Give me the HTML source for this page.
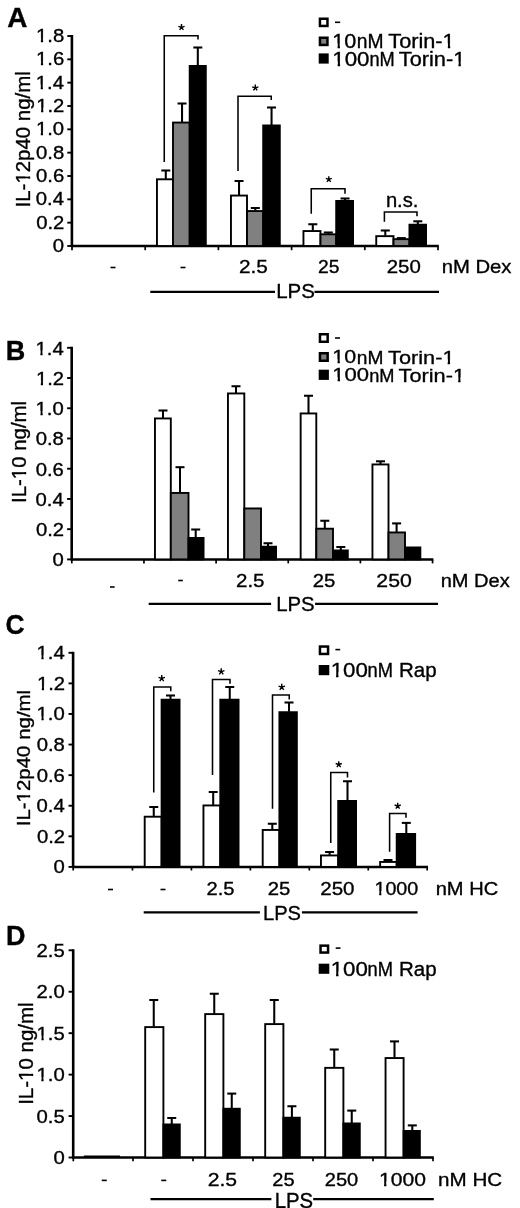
<!DOCTYPE html>
<html><head><meta charset="utf-8"><title>Figure</title>
<style>
html,body{margin:0;padding:0;background:#fff;}
svg{display:block;will-change:transform;filter:grayscale(1) blur(0.4px);}
text{font-family:"Liberation Sans",sans-serif;stroke:#000;stroke-width:0.35px;vector-effect:non-scaling-stroke;}
</style></head><body>
<svg width="520" height="1208" viewBox="0 0 520 1208">
<rect x="0" y="0" width="520" height="1208" fill="#fff"/>
<text transform="matrix(0.13955 0 0 0.13841 7.202 26.700)" font-size="200" font-weight="bold" fill="#000">A</text>
<line x1="71.9" y1="35.0" x2="71.9" y2="247.0" stroke="#000" stroke-width="2.6" stroke-linecap="butt"/>
<line x1="67.3" y1="36.0" x2="72.0" y2="36.0" stroke="#000" stroke-width="1.9" stroke-linecap="butt"/>
<g transform="matrix(0.10154 0 0 0.09085 35.985 41.900)"><text font-size="200" fill="#000">1.8</text><rect x="3.23" y="-44.94" width="44.86" height="70.94" fill="#fff"/><rect x="70.17" y="-44.94" width="43.30" height="70.94" fill="#fff"/></g>
<line x1="67.3" y1="59.33333333333333" x2="72.0" y2="59.33333333333333" stroke="#000" stroke-width="1.9" stroke-linecap="butt"/>
<g transform="matrix(0.10154 0 0 0.09085 35.985 65.233)"><text font-size="200" fill="#000">1.6</text><rect x="3.23" y="-44.94" width="44.86" height="70.94" fill="#fff"/><rect x="70.17" y="-44.94" width="43.30" height="70.94" fill="#fff"/></g>
<line x1="67.3" y1="82.66666666666666" x2="72.0" y2="82.66666666666666" stroke="#000" stroke-width="1.9" stroke-linecap="butt"/>
<g transform="matrix(0.10154 0 0 0.09085 35.782 88.567)"><text font-size="200" fill="#000">1.4</text><rect x="3.23" y="-44.94" width="44.86" height="70.94" fill="#fff"/><rect x="70.17" y="-44.94" width="43.30" height="70.94" fill="#fff"/></g>
<line x1="67.3" y1="106.0" x2="72.0" y2="106.0" stroke="#000" stroke-width="1.9" stroke-linecap="butt"/>
<g transform="matrix(0.10154 0 0 0.09085 36.188 111.900)"><text font-size="200" fill="#000">1.2</text><rect x="3.23" y="-44.94" width="44.86" height="70.94" fill="#fff"/><rect x="70.17" y="-44.94" width="43.30" height="70.94" fill="#fff"/></g>
<line x1="67.3" y1="129.33333333333331" x2="72.0" y2="129.33333333333331" stroke="#000" stroke-width="1.9" stroke-linecap="butt"/>
<g transform="matrix(0.10154 0 0 0.09085 35.883 135.233)"><text font-size="200" fill="#000">1.0</text><rect x="3.23" y="-44.94" width="44.86" height="70.94" fill="#fff"/><rect x="70.17" y="-44.94" width="43.30" height="70.94" fill="#fff"/></g>
<line x1="67.3" y1="152.66666666666669" x2="72.0" y2="152.66666666666669" stroke="#000" stroke-width="1.9" stroke-linecap="butt"/>
<text transform="matrix(0.10154 0 0 0.09085 35.985 158.567)" font-size="200" fill="#000">0.8</text>
<line x1="67.3" y1="176.0" x2="72.0" y2="176.0" stroke="#000" stroke-width="1.9" stroke-linecap="butt"/>
<text transform="matrix(0.10154 0 0 0.09085 35.985 181.900)" font-size="200" fill="#000">0.6</text>
<line x1="67.3" y1="199.33333333333334" x2="72.0" y2="199.33333333333334" stroke="#000" stroke-width="1.9" stroke-linecap="butt"/>
<text transform="matrix(0.10154 0 0 0.09085 35.782 205.233)" font-size="200" fill="#000">0.4</text>
<line x1="67.3" y1="222.66666666666666" x2="72.0" y2="222.66666666666666" stroke="#000" stroke-width="1.9" stroke-linecap="butt"/>
<text transform="matrix(0.10154 0 0 0.09085 36.188 228.567)" font-size="200" fill="#000">0.2</text>
<line x1="67.3" y1="246.0" x2="72.0" y2="246.0" stroke="#000" stroke-width="1.9" stroke-linecap="butt"/>
<text transform="matrix(0.10154 0 0 0.09085 52.840 251.900)" font-size="200" fill="#000">0</text>
<g transform="matrix(0 -0.10215 0.09724 0 29.800 207.439)"><text font-size="200" fill="#000">IL-12p40 ng/ml</text><rect x="236.64" y="-44.94" width="44.86" height="70.94" fill="#fff"/><rect x="303.57" y="-44.94" width="43.30" height="70.94" fill="#fff"/></g>
<line x1="71.0" y1="246.0" x2="438.8" y2="246.0" stroke="#000" stroke-width="2.5" stroke-linecap="butt"/>
<line x1="72.0" y1="246.0" x2="72.0" y2="250.2" stroke="#000" stroke-width="1.7" stroke-linecap="butt"/>
<line x1="145.2" y1="246.0" x2="145.2" y2="250.2" stroke="#000" stroke-width="1.7" stroke-linecap="butt"/>
<line x1="218.4" y1="246.0" x2="218.4" y2="250.2" stroke="#000" stroke-width="1.7" stroke-linecap="butt"/>
<line x1="291.6" y1="246.0" x2="291.6" y2="250.2" stroke="#000" stroke-width="1.7" stroke-linecap="butt"/>
<line x1="364.8" y1="246.0" x2="364.8" y2="250.2" stroke="#000" stroke-width="1.7" stroke-linecap="butt"/>
<line x1="438.0" y1="246.0" x2="438.0" y2="250.2" stroke="#000" stroke-width="1.7" stroke-linecap="butt"/>
<line x1="165.8" y1="170.5" x2="165.8" y2="178.85" stroke="#000" stroke-width="2.05" stroke-linecap="butt"/>
<line x1="161.3" y1="170.5" x2="170.3" y2="170.5" stroke="#000" stroke-width="2.05" stroke-linecap="butt"/>
<line x1="182.05" y1="103.5" x2="182.05" y2="122.1" stroke="#000" stroke-width="2.05" stroke-linecap="butt"/>
<line x1="177.55" y1="103.5" x2="186.55" y2="103.5" stroke="#000" stroke-width="2.05" stroke-linecap="butt"/>
<line x1="197.8" y1="47.5" x2="197.8" y2="65.5" stroke="#000" stroke-width="2.05" stroke-linecap="butt"/>
<line x1="193.3" y1="47.5" x2="202.3" y2="47.5" stroke="#000" stroke-width="2.05" stroke-linecap="butt"/>
<line x1="239.05" y1="181.0" x2="239.05" y2="195.1" stroke="#000" stroke-width="2.05" stroke-linecap="butt"/>
<line x1="234.55" y1="181.0" x2="243.55" y2="181.0" stroke="#000" stroke-width="2.05" stroke-linecap="butt"/>
<line x1="255.3" y1="208.0" x2="255.3" y2="210.6" stroke="#000" stroke-width="2.05" stroke-linecap="butt"/>
<line x1="250.8" y1="208.0" x2="259.8" y2="208.0" stroke="#000" stroke-width="2.05" stroke-linecap="butt"/>
<line x1="271.55" y1="107.5" x2="271.55" y2="125.0" stroke="#000" stroke-width="2.05" stroke-linecap="butt"/>
<line x1="267.05" y1="107.5" x2="276.05" y2="107.5" stroke="#000" stroke-width="2.05" stroke-linecap="butt"/>
<line x1="312.8" y1="224.25" x2="312.8" y2="230.6" stroke="#000" stroke-width="2.05" stroke-linecap="butt"/>
<line x1="308.3" y1="224.25" x2="317.3" y2="224.25" stroke="#000" stroke-width="2.05" stroke-linecap="butt"/>
<line x1="328.3" y1="232.5" x2="328.3" y2="233.85" stroke="#000" stroke-width="2.05" stroke-linecap="butt"/>
<line x1="323.8" y1="232.5" x2="332.8" y2="232.5" stroke="#000" stroke-width="2.05" stroke-linecap="butt"/>
<line x1="345.05" y1="198.5" x2="345.05" y2="200.5" stroke="#000" stroke-width="2.05" stroke-linecap="butt"/>
<line x1="340.55" y1="198.5" x2="349.55" y2="198.5" stroke="#000" stroke-width="2.05" stroke-linecap="butt"/>
<line x1="385.3" y1="230.5" x2="385.3" y2="235.7" stroke="#000" stroke-width="2.05" stroke-linecap="butt"/>
<line x1="380.8" y1="230.5" x2="389.8" y2="230.5" stroke="#000" stroke-width="2.05" stroke-linecap="butt"/>
<line x1="401.3" y1="238.1" x2="401.3" y2="238.7" stroke="#000" stroke-width="2.05" stroke-linecap="butt"/>
<line x1="396.8" y1="238.1" x2="405.8" y2="238.1" stroke="#000" stroke-width="2.05" stroke-linecap="butt"/>
<line x1="417.8" y1="221.3" x2="417.8" y2="224.25" stroke="#000" stroke-width="2.05" stroke-linecap="butt"/>
<line x1="413.3" y1="221.3" x2="422.3" y2="221.3" stroke="#000" stroke-width="2.05" stroke-linecap="butt"/>
<rect x="156.95" y="179.30" width="16.05" height="66.70" fill="#fff" stroke="#000" stroke-width="1.9"/>
<rect x="173.00" y="122.55" width="16.70" height="123.45" fill="#808080" stroke="#000" stroke-width="1.9"/>
<rect x="189.70" y="65.95" width="16.10" height="180.05" fill="#000" stroke="#000" stroke-width="1.9"/>
<rect x="230.95" y="195.55" width="16.05" height="50.45" fill="#fff" stroke="#000" stroke-width="1.9"/>
<rect x="247.00" y="211.05" width="16.20" height="34.95" fill="#808080" stroke="#000" stroke-width="1.9"/>
<rect x="263.20" y="125.45" width="16.60" height="120.55" fill="#000" stroke="#000" stroke-width="1.9"/>
<rect x="303.45" y="231.05" width="17.05" height="14.95" fill="#fff" stroke="#000" stroke-width="1.9"/>
<rect x="320.50" y="234.30" width="15.70" height="11.70" fill="#808080" stroke="#000" stroke-width="1.9"/>
<rect x="336.20" y="200.95" width="16.85" height="45.05" fill="#000" stroke="#000" stroke-width="1.9"/>
<rect x="376.25" y="236.15" width="17.25" height="9.85" fill="#fff" stroke="#000" stroke-width="1.9"/>
<rect x="393.50" y="239.15" width="15.95" height="6.85" fill="#808080" stroke="#000" stroke-width="1.9"/>
<rect x="409.45" y="224.70" width="16.60" height="21.30" fill="#000" stroke="#000" stroke-width="1.9"/>
<polyline points="164.25,162 164.25,35.75 198,35.75 198,39.5" fill="none" stroke="#000" stroke-width="1.55"/>
<polyline points="238,171 238,96.25 271.25,96.25 271.25,100" fill="none" stroke="#000" stroke-width="1.55"/>
<polyline points="311.25,213.75 311.25,188.75 345,188.75 345,193.75" fill="none" stroke="#000" stroke-width="1.55"/>
<polyline points="384.4,221.8 384.4,212 417,212 417,216.2" fill="none" stroke="#000" stroke-width="1.55"/>
<path d="M181.50,27.30L181.50,24.05M181.50,27.30L184.59,26.30M181.50,27.30L183.41,29.93M181.50,27.30L179.59,29.93M181.50,27.30L178.41,26.30" stroke="#000" stroke-width="1.4" fill="none"/>
<path d="M255.30,87.80L255.30,84.55M255.30,87.80L258.39,86.80M255.30,87.80L257.21,90.43M255.30,87.80L253.39,90.43M255.30,87.80L252.21,86.80" stroke="#000" stroke-width="1.4" fill="none"/>
<path d="M328.80,179.40L328.80,176.25M328.80,179.40L331.80,178.43M328.80,179.40L330.65,181.95M328.80,179.40L326.95,181.95M328.80,179.40L325.80,178.43" stroke="#000" stroke-width="1.4" fill="none"/>
<text transform="matrix(0.10103 0 0 0.10091 385.887 207.398)" font-size="200" fill="#000">n.s.</text>
<line x1="110.5" y1="267.5" x2="115.5" y2="267.5" stroke="#000" stroke-width="1.6" stroke-linecap="butt"/>
<line x1="180.5" y1="267.5" x2="185.5" y2="267.5" stroke="#000" stroke-width="1.6" stroke-linecap="butt"/>
<text transform="matrix(0.10385 0 0 0.09577 238.962 273.308)" font-size="200" fill="#000">2.5</text>
<text transform="matrix(0.09657 0 0 0.09577 318.034 273.308)" font-size="200" fill="#000">25</text>
<text transform="matrix(0.10222 0 0 0.09577 386.678 273.308)" font-size="200" fill="#000">250</text>
<text transform="matrix(0.10134 0 0 0.09565 441.683 273.300)" font-size="200" fill="#000">nM Dex</text>
<line x1="150.3" y1="291.9" x2="275.0" y2="291.9" stroke="#000" stroke-width="2.2" stroke-linecap="butt"/>
<line x1="314.5" y1="291.9" x2="439" y2="291.9" stroke="#000" stroke-width="2.2" stroke-linecap="butt"/>
<text transform="matrix(0.10255 0 0 0.10493 276.159 298.190)" font-size="200" fill="#000">LPS</text>
<rect x="319.95" y="18.75" width="7.5" height="7.199999999999999" fill="#fff" stroke="#000" stroke-width="2.5"/>
<rect x="319.95" y="37.75" width="7.5" height="7.200000000000003" fill="#808080" stroke="#000" stroke-width="2.5"/>
<rect x="319.95" y="54.65" width="7.5" height="7.700000000000003" fill="#000" stroke="#000" stroke-width="2.5"/>
<line x1="335" y1="22.3" x2="340.2" y2="22.3" stroke="#000" stroke-width="1.6" stroke-linecap="butt"/>
<g transform="matrix(0.10816 0 0 0.09718 332.345 47.606)"><text font-size="200" fill="#000">10</text><rect x="3.23" y="-44.94" width="44.86" height="70.94" fill="#fff"/><rect x="70.17" y="-44.94" width="43.30" height="70.94" fill="#fff"/></g>
<text transform="matrix(0.09637 0 0 0.09783 356.847 47.700)" font-size="200" fill="#000">nM</text>
<g transform="matrix(0.10869 0 0 0.09783 388.265 47.700)"><text font-size="200" fill="#000">Torin-1</text><rect x="503.36" y="-44.94" width="44.86" height="70.94" fill="#fff"/><rect x="570.29" y="-44.94" width="43.30" height="70.94" fill="#fff"/></g>
<g transform="matrix(0.11173 0 0 0.09859 332.277 65.703)"><text font-size="200" fill="#000">100</text><rect x="3.23" y="-44.94" width="44.86" height="70.94" fill="#fff"/><rect x="70.17" y="-44.94" width="43.30" height="70.94" fill="#fff"/></g>
<text transform="matrix(0.09113 0 0 0.09783 369.415 65.700)" font-size="200" fill="#000">nM</text>
<g transform="matrix(0.10887 0 0 0.09783 398.765 65.700)"><text font-size="200" fill="#000">Torin-1</text><rect x="503.36" y="-44.94" width="44.86" height="70.94" fill="#fff"/><rect x="570.29" y="-44.94" width="43.30" height="70.94" fill="#fff"/></g>
<text transform="matrix(0.13525 0 0 0.13623 5.742 359.700)" font-size="200" font-weight="bold" fill="#000">B</text>
<line x1="71.7" y1="346.8" x2="71.7" y2="560.4" stroke="#000" stroke-width="2.6" stroke-linecap="butt"/>
<line x1="67.1" y1="347.8" x2="71.8" y2="347.8" stroke="#000" stroke-width="1.9" stroke-linecap="butt"/>
<g transform="matrix(0.10154 0 0 0.09085 35.482 354.600)"><text font-size="200" fill="#000">1.4</text><rect x="3.23" y="-44.94" width="44.86" height="70.94" fill="#fff"/><rect x="70.17" y="-44.94" width="43.30" height="70.94" fill="#fff"/></g>
<line x1="67.1" y1="378.0285714285714" x2="71.8" y2="378.0285714285714" stroke="#000" stroke-width="1.9" stroke-linecap="butt"/>
<g transform="matrix(0.10154 0 0 0.09085 35.888 384.829)"><text font-size="200" fill="#000">1.2</text><rect x="3.23" y="-44.94" width="44.86" height="70.94" fill="#fff"/><rect x="70.17" y="-44.94" width="43.30" height="70.94" fill="#fff"/></g>
<line x1="67.1" y1="408.25714285714287" x2="71.8" y2="408.25714285714287" stroke="#000" stroke-width="1.9" stroke-linecap="butt"/>
<g transform="matrix(0.10154 0 0 0.09085 35.583 415.057)"><text font-size="200" fill="#000">1.0</text><rect x="3.23" y="-44.94" width="44.86" height="70.94" fill="#fff"/><rect x="70.17" y="-44.94" width="43.30" height="70.94" fill="#fff"/></g>
<line x1="67.1" y1="438.48571428571427" x2="71.8" y2="438.48571428571427" stroke="#000" stroke-width="1.9" stroke-linecap="butt"/>
<text transform="matrix(0.10154 0 0 0.09085 35.685 445.286)" font-size="200" fill="#000">0.8</text>
<line x1="67.1" y1="468.7142857142857" x2="71.8" y2="468.7142857142857" stroke="#000" stroke-width="1.9" stroke-linecap="butt"/>
<text transform="matrix(0.10154 0 0 0.09085 35.685 475.514)" font-size="200" fill="#000">0.6</text>
<line x1="67.1" y1="498.9428571428571" x2="71.8" y2="498.9428571428571" stroke="#000" stroke-width="1.9" stroke-linecap="butt"/>
<text transform="matrix(0.10154 0 0 0.09085 35.482 505.743)" font-size="200" fill="#000">0.4</text>
<line x1="67.1" y1="529.1714285714286" x2="71.8" y2="529.1714285714286" stroke="#000" stroke-width="1.9" stroke-linecap="butt"/>
<text transform="matrix(0.10154 0 0 0.09085 35.888 535.971)" font-size="200" fill="#000">0.2</text>
<line x1="67.1" y1="559.4" x2="71.8" y2="559.4" stroke="#000" stroke-width="1.9" stroke-linecap="butt"/>
<text transform="matrix(0.10154 0 0 0.09085 52.540 566.200)" font-size="200" fill="#000">0</text>
<g transform="matrix(0 -0.10217 0.09724 0 26.100 503.039)"><text font-size="200" fill="#000">IL-10 ng/ml</text><rect x="236.64" y="-44.94" width="44.86" height="70.94" fill="#fff"/><rect x="303.57" y="-44.94" width="43.30" height="70.94" fill="#fff"/></g>
<line x1="70.8" y1="559.4" x2="433.35" y2="559.4" stroke="#000" stroke-width="2.5" stroke-linecap="butt"/>
<line x1="71.8" y1="559.4" x2="71.8" y2="563.4" stroke="#000" stroke-width="1.7" stroke-linecap="butt"/>
<line x1="143.95" y1="559.4" x2="143.95" y2="563.4" stroke="#000" stroke-width="1.7" stroke-linecap="butt"/>
<line x1="216.10000000000002" y1="559.4" x2="216.10000000000002" y2="563.4" stroke="#000" stroke-width="1.7" stroke-linecap="butt"/>
<line x1="288.25" y1="559.4" x2="288.25" y2="563.4" stroke="#000" stroke-width="1.7" stroke-linecap="butt"/>
<line x1="360.40000000000003" y1="559.4" x2="360.40000000000003" y2="563.4" stroke="#000" stroke-width="1.7" stroke-linecap="butt"/>
<line x1="432.55" y1="559.4" x2="432.55" y2="563.4" stroke="#000" stroke-width="1.7" stroke-linecap="butt"/>
<line x1="163" y1="410.5" x2="163" y2="418.0" stroke="#000" stroke-width="2.05" stroke-linecap="butt"/>
<line x1="158.5" y1="410.5" x2="167.5" y2="410.5" stroke="#000" stroke-width="2.05" stroke-linecap="butt"/>
<line x1="180" y1="467.2" x2="180" y2="492.5" stroke="#000" stroke-width="2.05" stroke-linecap="butt"/>
<line x1="175.5" y1="467.2" x2="184.5" y2="467.2" stroke="#000" stroke-width="2.05" stroke-linecap="butt"/>
<line x1="195.7" y1="529.5" x2="195.7" y2="537.5" stroke="#000" stroke-width="2.05" stroke-linecap="butt"/>
<line x1="191.2" y1="529.5" x2="200.2" y2="529.5" stroke="#000" stroke-width="2.05" stroke-linecap="butt"/>
<line x1="236" y1="386.25" x2="236" y2="393.0" stroke="#000" stroke-width="2.05" stroke-linecap="butt"/>
<line x1="231.5" y1="386.25" x2="240.5" y2="386.25" stroke="#000" stroke-width="2.05" stroke-linecap="butt"/>
<line x1="268" y1="543.25" x2="268" y2="546.25" stroke="#000" stroke-width="2.05" stroke-linecap="butt"/>
<line x1="263.5" y1="543.25" x2="272.5" y2="543.25" stroke="#000" stroke-width="2.05" stroke-linecap="butt"/>
<line x1="308.5" y1="395.75" x2="308.5" y2="413.0" stroke="#000" stroke-width="2.05" stroke-linecap="butt"/>
<line x1="304.0" y1="395.75" x2="313.0" y2="395.75" stroke="#000" stroke-width="2.05" stroke-linecap="butt"/>
<line x1="324.8" y1="520.75" x2="324.8" y2="528.25" stroke="#000" stroke-width="2.05" stroke-linecap="butt"/>
<line x1="320.3" y1="520.75" x2="329.3" y2="520.75" stroke="#000" stroke-width="2.05" stroke-linecap="butt"/>
<line x1="340.8" y1="547" x2="340.8" y2="550.0" stroke="#000" stroke-width="2.05" stroke-linecap="butt"/>
<line x1="336.3" y1="547" x2="345.3" y2="547" stroke="#000" stroke-width="2.05" stroke-linecap="butt"/>
<line x1="380.5" y1="461.3" x2="380.5" y2="464.0" stroke="#000" stroke-width="2.05" stroke-linecap="butt"/>
<line x1="376.0" y1="461.3" x2="385.0" y2="461.3" stroke="#000" stroke-width="2.05" stroke-linecap="butt"/>
<line x1="396.6" y1="523.4" x2="396.6" y2="532.0" stroke="#000" stroke-width="2.05" stroke-linecap="butt"/>
<line x1="392.1" y1="523.4" x2="401.1" y2="523.4" stroke="#000" stroke-width="2.05" stroke-linecap="butt"/>
<rect x="154.95" y="418.45" width="15.85" height="140.95" fill="#fff" stroke="#000" stroke-width="1.9"/>
<rect x="170.80" y="492.95" width="17.70" height="66.45" fill="#808080" stroke="#000" stroke-width="1.9"/>
<rect x="188.50" y="537.95" width="15.05" height="21.45" fill="#000" stroke="#000" stroke-width="1.9"/>
<rect x="227.95" y="393.45" width="16.35" height="165.95" fill="#fff" stroke="#000" stroke-width="1.9"/>
<rect x="244.30" y="508.45" width="16.70" height="50.95" fill="#808080" stroke="#000" stroke-width="1.9"/>
<rect x="261.00" y="546.70" width="15.05" height="12.70" fill="#000" stroke="#000" stroke-width="1.9"/>
<rect x="300.65" y="413.45" width="15.65" height="145.95" fill="#fff" stroke="#000" stroke-width="1.9"/>
<rect x="316.30" y="528.70" width="16.70" height="30.70" fill="#808080" stroke="#000" stroke-width="1.9"/>
<rect x="333.00" y="550.45" width="14.80" height="8.95" fill="#000" stroke="#000" stroke-width="1.9"/>
<rect x="372.45" y="464.45" width="16.05" height="94.95" fill="#fff" stroke="#000" stroke-width="1.9"/>
<rect x="388.50" y="532.45" width="16.50" height="26.95" fill="#808080" stroke="#000" stroke-width="1.9"/>
<rect x="405.00" y="547.45" width="15.35" height="11.95" fill="#000" stroke="#000" stroke-width="1.9"/>
<line x1="110" y1="587" x2="114.6" y2="587" stroke="#000" stroke-width="1.6" stroke-linecap="butt"/>
<line x1="178.2" y1="580.5" x2="182.8" y2="580.5" stroke="#000" stroke-width="1.6" stroke-linecap="butt"/>
<text transform="matrix(0.10288 0 0 0.09296 235.971 586.514)" font-size="200" fill="#000">2.5</text>
<text transform="matrix(0.10172 0 0 0.09296 312.733 586.514)" font-size="200" fill="#000">25</text>
<text transform="matrix(0.10633 0 0 0.09296 376.337 586.514)" font-size="200" fill="#000">250</text>
<text transform="matrix(0.10030 0 0 0.09565 440.696 586.500)" font-size="200" fill="#000">nM Dex</text>
<line x1="148.7" y1="603.9" x2="271.1" y2="603.9" stroke="#000" stroke-width="2.2" stroke-linecap="butt"/>
<line x1="315.1" y1="603.9" x2="438" y2="603.9" stroke="#000" stroke-width="2.2" stroke-linecap="butt"/>
<text transform="matrix(0.10170 0 0 0.10423 276.173 611.492)" font-size="200" fill="#000">LPS</text>
<rect x="319.95" y="334.25" width="7.699999999999989" height="7.5" fill="#fff" stroke="#000" stroke-width="2.5"/>
<rect x="319.95" y="353.25" width="7.699999999999989" height="7.5" fill="#808080" stroke="#000" stroke-width="2.5"/>
<rect x="319.95" y="370.95" width="7.699999999999989" height="7.699999999999989" fill="#000" stroke="#000" stroke-width="2.5"/>
<line x1="335" y1="338" x2="340" y2="338" stroke="#000" stroke-width="1.6" stroke-linecap="butt"/>
<g transform="matrix(0.10714 0 0 0.09366 332.364 363.413)"><text font-size="200" fill="#000">10</text><rect x="3.23" y="-44.94" width="44.86" height="70.94" fill="#fff"/><rect x="70.17" y="-44.94" width="43.30" height="70.94" fill="#fff"/></g>
<text transform="matrix(0.09597 0 0 0.09420 356.752 363.500)" font-size="200" fill="#000">nM</text>
<g transform="matrix(0.10869 0 0 0.09420 388.065 363.500)"><text font-size="200" fill="#000">Torin-1</text><rect x="503.36" y="-44.94" width="44.86" height="70.94" fill="#fff"/><rect x="570.29" y="-44.94" width="43.30" height="70.94" fill="#fff"/></g>
<g transform="matrix(0.11042 0 0 0.09577 332.302 381.408)"><text font-size="200" fill="#000">100</text><rect x="3.23" y="-44.94" width="44.86" height="70.94" fill="#fff"/><rect x="70.17" y="-44.94" width="43.30" height="70.94" fill="#fff"/></g>
<text transform="matrix(0.09113 0 0 0.09638 369.215 381.500)" font-size="200" fill="#000">nM</text>
<g transform="matrix(0.10869 0 0 0.09638 398.565 381.500)"><text font-size="200" fill="#000">Torin-1</text><rect x="503.36" y="-44.94" width="44.86" height="70.94" fill="#fff"/><rect x="570.29" y="-44.94" width="43.30" height="70.94" fill="#fff"/></g>
<text transform="matrix(0.13206 0 0 0.13380 5.444 634.332)" font-size="200" font-weight="bold" fill="#000">C</text>
<line x1="73.10000000000001" y1="651.8" x2="73.10000000000001" y2="867.9" stroke="#000" stroke-width="2.6" stroke-linecap="butt"/>
<line x1="68.5" y1="652.8" x2="73.2" y2="652.8" stroke="#000" stroke-width="1.9" stroke-linecap="butt"/>
<g transform="matrix(0.10154 0 0 0.09085 36.482 659.300)"><text font-size="200" fill="#000">1.4</text><rect x="3.23" y="-44.94" width="44.86" height="70.94" fill="#fff"/><rect x="70.17" y="-44.94" width="43.30" height="70.94" fill="#fff"/></g>
<line x1="68.5" y1="683.3857142857142" x2="73.2" y2="683.3857142857142" stroke="#000" stroke-width="1.9" stroke-linecap="butt"/>
<g transform="matrix(0.10154 0 0 0.09085 36.888 689.886)"><text font-size="200" fill="#000">1.2</text><rect x="3.23" y="-44.94" width="44.86" height="70.94" fill="#fff"/><rect x="70.17" y="-44.94" width="43.30" height="70.94" fill="#fff"/></g>
<line x1="68.5" y1="713.9714285714285" x2="73.2" y2="713.9714285714285" stroke="#000" stroke-width="1.9" stroke-linecap="butt"/>
<g transform="matrix(0.10154 0 0 0.09085 36.583 720.471)"><text font-size="200" fill="#000">1.0</text><rect x="3.23" y="-44.94" width="44.86" height="70.94" fill="#fff"/><rect x="70.17" y="-44.94" width="43.30" height="70.94" fill="#fff"/></g>
<line x1="68.5" y1="744.5571428571428" x2="73.2" y2="744.5571428571428" stroke="#000" stroke-width="1.9" stroke-linecap="butt"/>
<text transform="matrix(0.10154 0 0 0.09085 36.685 751.057)" font-size="200" fill="#000">0.8</text>
<line x1="68.5" y1="775.1428571428571" x2="73.2" y2="775.1428571428571" stroke="#000" stroke-width="1.9" stroke-linecap="butt"/>
<text transform="matrix(0.10154 0 0 0.09085 36.685 781.643)" font-size="200" fill="#000">0.6</text>
<line x1="68.5" y1="805.7285714285714" x2="73.2" y2="805.7285714285714" stroke="#000" stroke-width="1.9" stroke-linecap="butt"/>
<text transform="matrix(0.10154 0 0 0.09085 36.482 812.229)" font-size="200" fill="#000">0.4</text>
<line x1="68.5" y1="836.3142857142857" x2="73.2" y2="836.3142857142857" stroke="#000" stroke-width="1.9" stroke-linecap="butt"/>
<text transform="matrix(0.10154 0 0 0.09085 36.888 842.814)" font-size="200" fill="#000">0.2</text>
<line x1="68.5" y1="866.9" x2="73.2" y2="866.9" stroke="#000" stroke-width="1.9" stroke-linecap="butt"/>
<text transform="matrix(0.10154 0 0 0.09085 53.540 873.400)" font-size="200" fill="#000">0</text>
<g transform="matrix(0 -0.10230 0.09586 0 29.800 826.241)"><text font-size="200" fill="#000">IL-12p40 ng/ml</text><rect x="236.64" y="-44.94" width="44.86" height="70.94" fill="#fff"/><rect x="303.57" y="-44.94" width="43.30" height="70.94" fill="#fff"/></g>
<line x1="72.2" y1="866.9" x2="428.00000000000006" y2="866.9" stroke="#000" stroke-width="2.5" stroke-linecap="butt"/>
<line x1="73.2" y1="866.9" x2="73.2" y2="870.5" stroke="#000" stroke-width="1.7" stroke-linecap="butt"/>
<line x1="132.45" y1="866.9" x2="132.45" y2="870.5" stroke="#000" stroke-width="1.7" stroke-linecap="butt"/>
<line x1="191.4" y1="866.9" x2="191.4" y2="870.5" stroke="#000" stroke-width="1.7" stroke-linecap="butt"/>
<line x1="250.35000000000002" y1="866.9" x2="250.35000000000002" y2="870.5" stroke="#000" stroke-width="1.7" stroke-linecap="butt"/>
<line x1="309.3" y1="866.9" x2="309.3" y2="870.5" stroke="#000" stroke-width="1.7" stroke-linecap="butt"/>
<line x1="368.25" y1="866.9" x2="368.25" y2="870.5" stroke="#000" stroke-width="1.7" stroke-linecap="butt"/>
<line x1="427.20000000000005" y1="866.9" x2="427.20000000000005" y2="870.5" stroke="#000" stroke-width="1.7" stroke-linecap="butt"/>
<line x1="153.75" y1="807" x2="153.75" y2="816.25" stroke="#000" stroke-width="2.05" stroke-linecap="butt"/>
<line x1="149.25" y1="807" x2="158.25" y2="807" stroke="#000" stroke-width="2.05" stroke-linecap="butt"/>
<line x1="170.5" y1="695.5" x2="170.5" y2="699.25" stroke="#000" stroke-width="2.05" stroke-linecap="butt"/>
<line x1="166.0" y1="695.5" x2="175.0" y2="695.5" stroke="#000" stroke-width="2.05" stroke-linecap="butt"/>
<line x1="213.2" y1="792" x2="213.2" y2="805.0" stroke="#000" stroke-width="2.05" stroke-linecap="butt"/>
<line x1="208.7" y1="792" x2="217.7" y2="792" stroke="#000" stroke-width="2.05" stroke-linecap="butt"/>
<line x1="229.75" y1="687" x2="229.75" y2="699.25" stroke="#000" stroke-width="2.05" stroke-linecap="butt"/>
<line x1="225.25" y1="687" x2="234.25" y2="687" stroke="#000" stroke-width="2.05" stroke-linecap="butt"/>
<line x1="272.3" y1="823.75" x2="272.3" y2="829.5" stroke="#000" stroke-width="2.05" stroke-linecap="butt"/>
<line x1="267.8" y1="823.75" x2="276.8" y2="823.75" stroke="#000" stroke-width="2.05" stroke-linecap="butt"/>
<line x1="289" y1="702.5" x2="289" y2="711.75" stroke="#000" stroke-width="2.05" stroke-linecap="butt"/>
<line x1="284.5" y1="702.5" x2="293.5" y2="702.5" stroke="#000" stroke-width="2.05" stroke-linecap="butt"/>
<line x1="329.6" y1="852" x2="329.6" y2="855.0" stroke="#000" stroke-width="2.05" stroke-linecap="butt"/>
<line x1="325.1" y1="852" x2="334.1" y2="852" stroke="#000" stroke-width="2.05" stroke-linecap="butt"/>
<line x1="347.5" y1="781.25" x2="347.5" y2="800.5" stroke="#000" stroke-width="2.05" stroke-linecap="butt"/>
<line x1="343.0" y1="781.25" x2="352.0" y2="781.25" stroke="#000" stroke-width="2.05" stroke-linecap="butt"/>
<line x1="388" y1="860" x2="388" y2="861.5" stroke="#000" stroke-width="2.05" stroke-linecap="butt"/>
<line x1="383.5" y1="860" x2="392.5" y2="860" stroke="#000" stroke-width="2.05" stroke-linecap="butt"/>
<line x1="406.3" y1="822.9" x2="406.3" y2="833.5" stroke="#000" stroke-width="2.05" stroke-linecap="butt"/>
<line x1="401.8" y1="822.9" x2="410.8" y2="822.9" stroke="#000" stroke-width="2.05" stroke-linecap="butt"/>
<rect x="144.70" y="816.70" width="16.90" height="50.20" fill="#fff" stroke="#000" stroke-width="1.9"/>
<rect x="161.60" y="699.70" width="17.95" height="167.20" fill="#000" stroke="#000" stroke-width="1.9"/>
<rect x="203.45" y="805.45" width="16.85" height="61.45" fill="#fff" stroke="#000" stroke-width="1.9"/>
<rect x="220.30" y="699.70" width="18.25" height="167.20" fill="#000" stroke="#000" stroke-width="1.9"/>
<rect x="262.70" y="829.95" width="16.70" height="36.95" fill="#fff" stroke="#000" stroke-width="1.9"/>
<rect x="279.40" y="712.20" width="17.45" height="154.70" fill="#000" stroke="#000" stroke-width="1.9"/>
<rect x="320.95" y="855.45" width="17.25" height="11.45" fill="#fff" stroke="#000" stroke-width="1.9"/>
<rect x="338.20" y="800.95" width="17.85" height="65.95" fill="#000" stroke="#000" stroke-width="1.9"/>
<rect x="380.15" y="861.95" width="16.55" height="4.95" fill="#fff" stroke="#000" stroke-width="1.9"/>
<rect x="396.70" y="833.95" width="18.45" height="32.95" fill="#000" stroke="#000" stroke-width="1.9"/>
<polyline points="153.75,792.5 153.75,687 170.75,687 170.75,691.25" fill="none" stroke="#000" stroke-width="1.55"/>
<polyline points="212.5,775 212.5,679.5 230,679.5 230,683.75" fill="none" stroke="#000" stroke-width="1.55"/>
<polyline points="272.5,808.75 272.5,695 289.25,695 289.25,699.5" fill="none" stroke="#000" stroke-width="1.55"/>
<polyline points="330.75,843 330.75,772.5 347.5,772.5 347.5,777.5" fill="none" stroke="#000" stroke-width="1.55"/>
<polyline points="389.6,851.7 389.6,813.4 406,813.4 406,817.7" fill="none" stroke="#000" stroke-width="1.55"/>
<path d="M161.75,678.42L161.75,675.05M161.75,678.42L164.96,677.38M161.75,678.42L163.73,681.16M161.75,678.42L159.77,681.16M161.75,678.42L158.54,677.38" stroke="#000" stroke-width="1.4" fill="none"/>
<path d="M221.25,671.67L221.25,668.30M221.25,671.67L224.46,670.63M221.25,671.67L223.23,674.41M221.25,671.67L219.27,674.41M221.25,671.67L218.04,670.63" stroke="#000" stroke-width="1.4" fill="none"/>
<path d="M281.75,687.17L281.75,683.80M281.75,687.17L284.96,686.13M281.75,687.17L283.73,689.91M281.75,687.17L279.77,689.91M281.75,687.17L278.54,686.13" stroke="#000" stroke-width="1.4" fill="none"/>
<path d="M338.75,764.52L338.75,761.30M338.75,764.52L341.82,763.53M338.75,764.52L340.65,767.13M338.75,764.52L336.85,767.13M338.75,764.52L335.68,763.53" stroke="#000" stroke-width="1.4" fill="none"/>
<path d="M397.70,806.00L397.70,802.75M397.70,806.00L400.79,805.00M397.70,806.00L399.61,808.63M397.70,806.00L395.79,808.63M397.70,806.00L394.61,805.00" stroke="#000" stroke-width="1.4" fill="none"/>
<line x1="108" y1="889.5" x2="113" y2="889.5" stroke="#000" stroke-width="1.6" stroke-linecap="butt"/>
<line x1="160.5" y1="889.5" x2="165.5" y2="889.5" stroke="#000" stroke-width="1.6" stroke-linecap="butt"/>
<text transform="matrix(0.10096 0 0 0.09296 206.490 895.214)" font-size="200" fill="#000">2.5</text>
<text transform="matrix(0.10172 0 0 0.09296 267.733 895.214)" font-size="200" fill="#000">25</text>
<text transform="matrix(0.10285 0 0 0.09296 320.222 895.214)" font-size="200" fill="#000">250</text>
<g transform="matrix(0.09857 0 0 0.09296 374.427 895.214)"><text font-size="200" fill="#000">1000</text><rect x="3.23" y="-44.94" width="44.86" height="70.94" fill="#fff"/><rect x="70.17" y="-44.94" width="43.30" height="70.94" fill="#fff"/></g>
<text transform="matrix(0.10050 0 0 0.09638 435.694 895.300)" font-size="200" fill="#000">nM HC</text>
<line x1="143.7" y1="912.3" x2="259.9" y2="912.3" stroke="#000" stroke-width="2.2" stroke-linecap="butt"/>
<line x1="301.9" y1="912.3" x2="417.6" y2="912.3" stroke="#000" stroke-width="2.2" stroke-linecap="butt"/>
<text transform="matrix(0.10057 0 0 0.10493 262.991 919.890)" font-size="200" fill="#000">LPS</text>
<rect x="319.95" y="646.55" width="8.100000000000023" height="7.400000000000091" fill="#fff" stroke="#000" stroke-width="2.5"/>
<rect x="319.95" y="666.25" width="8.100000000000023" height="7.7000000000000455" fill="#000" stroke="#000" stroke-width="2.5"/>
<line x1="335.4" y1="649.6" x2="340.2" y2="649.6" stroke="#000" stroke-width="1.6" stroke-linecap="butt"/>
<g transform="matrix(0.11140 0 0 0.09930 330.683 676.701)"><text font-size="200" fill="#000">100</text><rect x="3.23" y="-44.94" width="44.86" height="70.94" fill="#fff"/><rect x="70.17" y="-44.94" width="43.30" height="70.94" fill="#fff"/></g>
<text transform="matrix(0.09153 0 0 0.09928 367.610 676.700)" font-size="200" fill="#000">nM</text>
<text transform="matrix(0.10262 0 0 0.10072 399.058 676.700)" font-size="200" fill="#000">Rap</text>
<text transform="matrix(0.13496 0 0 0.13696 6.046 944.700)" font-size="200" font-weight="bold" fill="#000">D</text>
<line x1="73.2" y1="949.3" x2="73.2" y2="1158.5" stroke="#000" stroke-width="2.6" stroke-linecap="butt"/>
<line x1="68.6" y1="950.3" x2="73.3" y2="950.3" stroke="#000" stroke-width="1.9" stroke-linecap="butt"/>
<text transform="matrix(0.10154 0 0 0.09085 36.585 956.800)" font-size="200" fill="#000">2.5</text>
<line x1="68.6" y1="991.74" x2="73.3" y2="991.74" stroke="#000" stroke-width="1.9" stroke-linecap="butt"/>
<text transform="matrix(0.10154 0 0 0.09085 36.483 998.240)" font-size="200" fill="#000">2.0</text>
<line x1="68.6" y1="1033.18" x2="73.3" y2="1033.18" stroke="#000" stroke-width="1.9" stroke-linecap="butt"/>
<g transform="matrix(0.10154 0 0 0.09085 36.585 1039.680)"><text font-size="200" fill="#000">1.5</text><rect x="3.23" y="-44.94" width="44.86" height="70.94" fill="#fff"/><rect x="70.17" y="-44.94" width="43.30" height="70.94" fill="#fff"/></g>
<line x1="68.6" y1="1074.62" x2="73.3" y2="1074.62" stroke="#000" stroke-width="1.9" stroke-linecap="butt"/>
<g transform="matrix(0.10154 0 0 0.09085 36.483 1081.120)"><text font-size="200" fill="#000">1.0</text><rect x="3.23" y="-44.94" width="44.86" height="70.94" fill="#fff"/><rect x="70.17" y="-44.94" width="43.30" height="70.94" fill="#fff"/></g>
<line x1="68.6" y1="1116.06" x2="73.3" y2="1116.06" stroke="#000" stroke-width="1.9" stroke-linecap="butt"/>
<text transform="matrix(0.10154 0 0 0.09085 36.585 1122.560)" font-size="200" fill="#000">0.5</text>
<line x1="68.6" y1="1157.5" x2="73.3" y2="1157.5" stroke="#000" stroke-width="1.9" stroke-linecap="butt"/>
<text transform="matrix(0.10154 0 0 0.09085 53.440 1164.000)" font-size="200" fill="#000">0</text>
<g transform="matrix(0 -0.10248 0.09724 0 32.500 1104.845)"><text font-size="200" fill="#000">IL-10 ng/ml</text><rect x="236.64" y="-44.94" width="44.86" height="70.94" fill="#fff"/><rect x="303.57" y="-44.94" width="43.30" height="70.94" fill="#fff"/></g>
<line x1="72.3" y1="1157.5" x2="433.8" y2="1157.5" stroke="#000" stroke-width="2.5" stroke-linecap="butt"/>
<line x1="73.3" y1="1157.5" x2="73.3" y2="1161.3" stroke="#000" stroke-width="1.7" stroke-linecap="butt"/>
<line x1="133.0" y1="1157.5" x2="133.0" y2="1161.3" stroke="#000" stroke-width="1.7" stroke-linecap="butt"/>
<line x1="193.0" y1="1157.5" x2="193.0" y2="1161.3" stroke="#000" stroke-width="1.7" stroke-linecap="butt"/>
<line x1="253.0" y1="1157.5" x2="253.0" y2="1161.3" stroke="#000" stroke-width="1.7" stroke-linecap="butt"/>
<line x1="313.0" y1="1157.5" x2="313.0" y2="1161.3" stroke="#000" stroke-width="1.7" stroke-linecap="butt"/>
<line x1="373.0" y1="1157.5" x2="373.0" y2="1161.3" stroke="#000" stroke-width="1.7" stroke-linecap="butt"/>
<line x1="433.0" y1="1157.5" x2="433.0" y2="1161.3" stroke="#000" stroke-width="1.7" stroke-linecap="butt"/>
<line x1="83.8" y1="1156.6" x2="120" y2="1156.6" stroke="#000" stroke-width="2.4" stroke-linecap="butt"/>
<line x1="153.75" y1="1000" x2="153.75" y2="1026.65" stroke="#000" stroke-width="2.05" stroke-linecap="butt"/>
<line x1="149.25" y1="1000" x2="158.25" y2="1000" stroke="#000" stroke-width="2.05" stroke-linecap="butt"/>
<line x1="171.75" y1="1118" x2="171.75" y2="1124.0" stroke="#000" stroke-width="2.05" stroke-linecap="butt"/>
<line x1="167.25" y1="1118" x2="176.25" y2="1118" stroke="#000" stroke-width="2.05" stroke-linecap="butt"/>
<line x1="214.25" y1="993.75" x2="214.25" y2="1013.65" stroke="#000" stroke-width="2.05" stroke-linecap="butt"/>
<line x1="209.75" y1="993.75" x2="218.75" y2="993.75" stroke="#000" stroke-width="2.05" stroke-linecap="butt"/>
<line x1="231.75" y1="1093.6" x2="231.75" y2="1108.3" stroke="#000" stroke-width="2.05" stroke-linecap="butt"/>
<line x1="227.25" y1="1093.6" x2="236.25" y2="1093.6" stroke="#000" stroke-width="2.05" stroke-linecap="butt"/>
<line x1="274.25" y1="1000" x2="274.25" y2="1023.65" stroke="#000" stroke-width="2.05" stroke-linecap="butt"/>
<line x1="269.75" y1="1000" x2="278.75" y2="1000" stroke="#000" stroke-width="2.05" stroke-linecap="butt"/>
<line x1="291.9" y1="1106.25" x2="291.9" y2="1117.25" stroke="#000" stroke-width="2.05" stroke-linecap="butt"/>
<line x1="287.4" y1="1106.25" x2="296.4" y2="1106.25" stroke="#000" stroke-width="2.05" stroke-linecap="butt"/>
<line x1="334.25" y1="1049.5" x2="334.25" y2="1067.4" stroke="#000" stroke-width="2.05" stroke-linecap="butt"/>
<line x1="329.75" y1="1049.5" x2="338.75" y2="1049.5" stroke="#000" stroke-width="2.05" stroke-linecap="butt"/>
<line x1="351.75" y1="1110.6" x2="351.75" y2="1123.0" stroke="#000" stroke-width="2.05" stroke-linecap="butt"/>
<line x1="347.25" y1="1110.6" x2="356.25" y2="1110.6" stroke="#000" stroke-width="2.05" stroke-linecap="butt"/>
<line x1="394.5" y1="1041.4" x2="394.5" y2="1057.6000000000001" stroke="#000" stroke-width="2.05" stroke-linecap="butt"/>
<line x1="390.0" y1="1041.4" x2="399.0" y2="1041.4" stroke="#000" stroke-width="2.05" stroke-linecap="butt"/>
<line x1="412.3" y1="1125.4" x2="412.3" y2="1130.5" stroke="#000" stroke-width="2.05" stroke-linecap="butt"/>
<line x1="407.8" y1="1125.4" x2="416.8" y2="1125.4" stroke="#000" stroke-width="2.05" stroke-linecap="butt"/>
<rect x="145.20" y="1027.10" width="18.20" height="130.40" fill="#fff" stroke="#000" stroke-width="1.9"/>
<rect x="163.40" y="1124.45" width="16.40" height="33.05" fill="#000" stroke="#000" stroke-width="1.9"/>
<rect x="205.20" y="1014.10" width="18.20" height="143.40" fill="#fff" stroke="#000" stroke-width="1.9"/>
<rect x="223.40" y="1108.75" width="16.40" height="48.75" fill="#000" stroke="#000" stroke-width="1.9"/>
<rect x="265.20" y="1024.10" width="18.20" height="133.40" fill="#fff" stroke="#000" stroke-width="1.9"/>
<rect x="283.40" y="1117.70" width="16.40" height="39.80" fill="#000" stroke="#000" stroke-width="1.9"/>
<rect x="325.20" y="1067.85" width="18.20" height="89.65" fill="#fff" stroke="#000" stroke-width="1.9"/>
<rect x="343.40" y="1123.45" width="16.40" height="34.05" fill="#000" stroke="#000" stroke-width="1.9"/>
<rect x="385.55" y="1058.05" width="18.05" height="99.45" fill="#fff" stroke="#000" stroke-width="1.9"/>
<rect x="403.60" y="1130.95" width="16.25" height="26.55" fill="#000" stroke="#000" stroke-width="1.9"/>
<line x1="101.75" y1="1180.4" x2="106.75" y2="1180.4" stroke="#000" stroke-width="1.6" stroke-linecap="butt"/>
<line x1="161.25" y1="1180.4" x2="166.25" y2="1180.4" stroke="#000" stroke-width="1.6" stroke-linecap="butt"/>
<text transform="matrix(0.10577 0 0 0.09296 207.692 1185.614)" font-size="200" fill="#000">2.5</text>
<text transform="matrix(0.10049 0 0 0.09296 272.245 1185.614)" font-size="200" fill="#000">25</text>
<text transform="matrix(0.10047 0 0 0.09296 324.745 1185.614)" font-size="200" fill="#000">250</text>
<g transform="matrix(0.10549 0 0 0.09296 378.996 1185.614)"><text font-size="200" fill="#000">1000</text><rect x="3.23" y="-44.94" width="44.86" height="70.94" fill="#fff"/><rect x="70.17" y="-44.94" width="43.30" height="70.94" fill="#fff"/></g>
<text transform="matrix(0.10316 0 0 0.09565 438.059 1185.600)" font-size="200" fill="#000">nM HC</text>
<line x1="150.5" y1="1199.2" x2="271.4" y2="1199.2" stroke="#000" stroke-width="2.2" stroke-linecap="butt"/>
<line x1="313.2" y1="1199.2" x2="433.8" y2="1199.2" stroke="#000" stroke-width="2.2" stroke-linecap="butt"/>
<text transform="matrix(0.10170 0 0 0.10704 274.673 1207.986)" font-size="200" fill="#000">LPS</text>
<rect x="320.55" y="945.65" width="7.5" height="6.899999999999977" fill="#fff" stroke="#000" stroke-width="2.5"/>
<rect x="319.95" y="964.95" width="8.100000000000023" height="7.599999999999909" fill="#000" stroke="#000" stroke-width="2.5"/>
<line x1="335.7" y1="948.1" x2="340.5" y2="948.1" stroke="#000" stroke-width="1.6" stroke-linecap="butt"/>
<g transform="matrix(0.11140 0 0 0.09859 330.683 975.803)"><text font-size="200" fill="#000">100</text><rect x="3.23" y="-44.94" width="44.86" height="70.94" fill="#fff"/><rect x="70.17" y="-44.94" width="43.30" height="70.94" fill="#fff"/></g>
<text transform="matrix(0.09153 0 0 0.09855 367.610 975.800)" font-size="200" fill="#000">nM</text>
<text transform="matrix(0.10262 0 0 0.10000 399.058 975.800)" font-size="200" fill="#000">Rap</text>
</svg>
</body></html>
